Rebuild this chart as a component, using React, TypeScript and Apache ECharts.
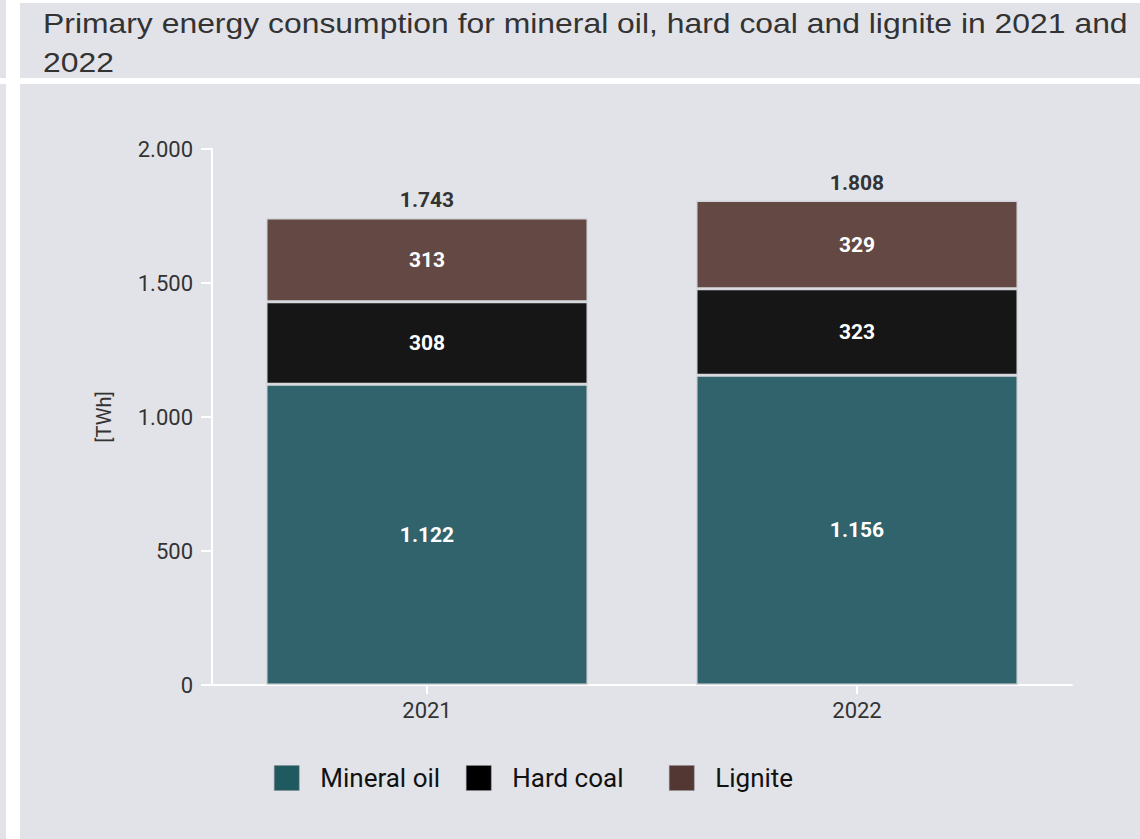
import React, { useEffect, useRef } from 'react';
import * as echarts from 'echarts';

const categories = ['2021', '2022'];
const mineralOil = [1122, 1156];
const hardCoal = [308, 323];
const lignite = [313, 329];
const totals = [1743, 1808];
const seriesNames = ['Mineral oil', 'Hard coal', 'Lignite'];
const titleLines = [
  'Primary energy consumption for mineral oil, hard coal and lignite in 2021 and',
  '2022',
];

const BG = '#e2e3e8';
const barColors = ['#30636b', '#161616', '#634844'];
const legendColors = ['#1f5a60', '#000000', '#523733'];
const FONT = 'Roboto, "DejaVu Sans", sans-serif';

function fmt(n: number): string {
  return String(n).replace(/\B(?=(\d{3})+(?!\d))/g, '.');
}

export default function App() {
  const ref = useRef<HTMLDivElement>(null);

  useEffect(() => {
    if (!ref.current) return;
    const chart = echarts.init(ref.current, null, { renderer: 'svg' });
    const values = [mineralOil, hardCoal, lignite];
    const barSeries: any[] = seriesNames.map((name, i) => ({
      name,
      type: 'bar',
      stack: 'total',
      data: values[i],
      barWidth: 322,
      itemStyle: { color: barColors[i], borderColor: '#d6d7dc', borderWidth: 1.5 },
      label: {
        show: true,
        position: 'inside',
        color: '#ffffff',
        fontWeight: 'bold',
        fontSize: 21,
        fontFamily: FONT,
        formatter: (p: any) => fmt(p.value),
      },
    }));
    barSeries.push({
      name: 'Total',
      type: 'bar',
      stack: 'total',
      data: totals.map(() => 0),
      barWidth: 322,
      itemStyle: { color: 'transparent' },
      label: {
        show: true,
        position: 'top',
        distance: 7,
        color: '#333333',
        fontWeight: 'bold',
        fontSize: 21,
        fontFamily: FONT,
        formatter: (p: any) => fmt(totals[p.dataIndex]),
      },
    });

    const legendLefts = [269, 461, 664];
    const legends = seriesNames.map((name, i) => ({
      left: legendLefts[i],
      top: 760,
      itemWidth: 25,
      itemHeight: 25,
      icon: 'rect',
      selectedMode: false,
      data: [{ name, itemStyle: { color: legendColors[i], borderColor: '#8a8c90', borderWidth: 0.5 } }],
      textStyle: { fontSize: 26, color: '#111111', fontFamily: FONT, padding: [0, 0, 0, 16] },
    }));

    chart.setOption({
      animation: false,
      backgroundColor: 'transparent',
      textStyle: { fontFamily: FONT },
      grid: { left: 212, right: 68, top: 149, bottom: 154, containLabel: false },
      legend: legends,
      graphic: titleLines.map((t, i) => ({
        type: 'text',
        x: 43,
        y: 23 + i * 39,
        scaleX: 1.139,
        style: {
          text: t,
          x: 0,
          y: 0,
          fill: '#333333',
          font: '28px "Liberation Sans", Arial, sans-serif',
          verticalAlign: 'middle',
          align: 'left',
        },
      })),
      xAxis: {
        type: 'category',
        data: categories,
        axisLine: { show: true, lineStyle: { color: '#ffffff', width: 2 } },
        axisTick: { show: true, alignWithLabel: true, length: 9, lineStyle: { color: '#ffffff', width: 2 } },
        axisLabel: { color: '#333333', fontSize: 22, margin: 14, fontFamily: FONT },
      },
      yAxis: {
        type: 'value',
        min: 0,
        max: 2000,
        interval: 500,
        name: '[TWh]',
        nameLocation: 'middle',
        nameGap: 98,
        nameRotate: 90,
        nameTextStyle: { fontSize: 20, color: '#333333', fontFamily: FONT },
        axisLine: { show: true, lineStyle: { color: '#ffffff', width: 2 } },
        axisTick: { show: true, length: 11, lineStyle: { color: '#ffffff', width: 2 } },
        splitLine: { show: false },
        axisLabel: { color: '#333333', fontSize: 22, margin: 19, fontFamily: FONT, formatter: (v: number) => fmt(v) },
      },
      series: barSeries,
    });
    return () => chart.dispose();
  }, []);

  const box = (left: number, top: number, width: number, height: number) => (
    <div style={{ position: 'absolute', left, top, width, height, background: BG }} />
  );

  return (
    <div style={{ position: 'absolute', left: 0, top: 0, width: 1140, height: 839, background: '#ffffff', overflow: 'hidden' }}>
      {box(0, 0, 6, 78)}
      {box(0, 84, 6, 755)}
      {box(20, 3, 1120, 75)}
      {box(20, 84, 1120, 755)}
      <div ref={ref} style={{ position: 'absolute', left: 0, top: 0, width: 1140, height: 839 }} />
    </div>
  );
}
